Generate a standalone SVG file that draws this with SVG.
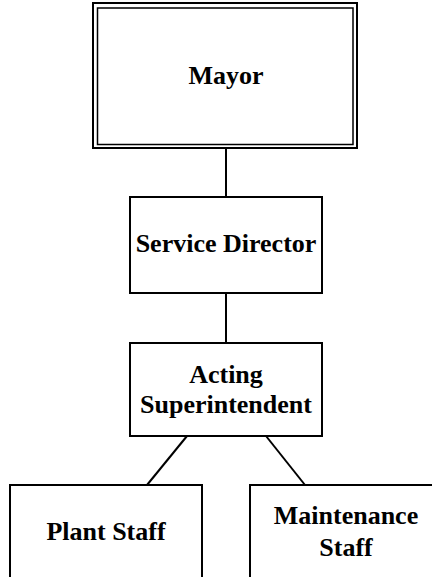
<svg xmlns="http://www.w3.org/2000/svg" width="432" height="577" viewBox="0 0 432 577">
<style>
.box{fill:#fff;stroke:#000;stroke-width:2}
.inner{fill:none;stroke:#000;stroke-width:1.5}
.lbl{font-family:"Liberation Serif","Times New Roman",serif;font-weight:bold;font-size:26px;text-anchor:middle;fill:#000}
.conn{stroke:#000;stroke-width:2;fill:none}
</style>
<rect width="432" height="577" fill="#fff"/>
<g id="connectors">
<line class="conn" x1="226" y1="148" x2="226" y2="197"/>
<line class="conn" x1="226" y1="293" x2="226" y2="343"/>
<line class="conn" x1="187" y1="436" x2="147" y2="485"/>
<line class="conn" x1="266" y1="436" x2="305" y2="485"/>
</g>
<g id="mayor">
<rect class="box" x="93" y="3" width="264" height="145"/>
<rect class="inner" x="97.5" y="8" width="255.5" height="136.5"/>
<text class="lbl" x="226" y="84">Mayor</text>
</g>
<g id="service-director">
<rect class="box" x="130" y="197" width="192" height="96"/>
<text class="lbl" x="226" y="252">Service Director</text>
</g>
<g id="acting-superintendent">
<rect class="box" x="130" y="343" width="192" height="93"/>
<text class="lbl" x="226" y="383">Acting</text>
<text class="lbl" x="226" y="413">Superintendent</text>
</g>
<g id="plant-staff">
<rect class="box" x="10" y="485" width="192" height="110"/>
<text class="lbl" x="106" y="540">Plant Staff</text>
</g>
<g id="maintenance-staff">
<rect class="box" x="250" y="485" width="192" height="110"/>
<text class="lbl" x="346" y="524">Maintenance</text>
<text class="lbl" x="346" y="556">Staff</text>
</g>
</svg>
